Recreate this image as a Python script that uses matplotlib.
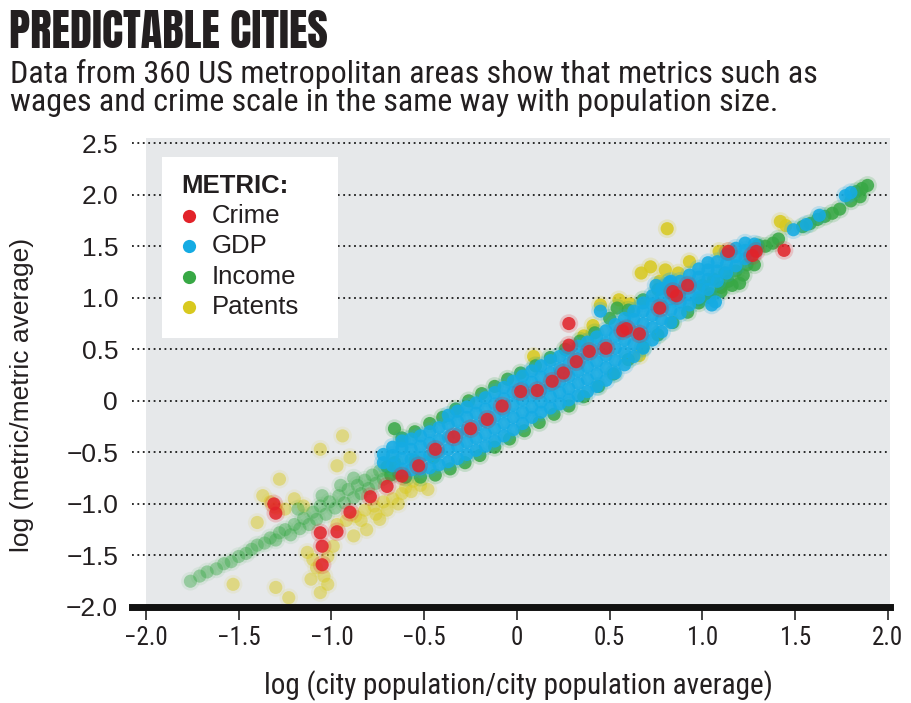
import numpy as np
import matplotlib
matplotlib.use('Agg')
import matplotlib.pyplot as plt
from matplotlib.colors import to_rgba
from matplotlib.patches import Rectangle
from matplotlib.lines import Line2D

# ---- data ----
xticks = [-2.0, -1.5, -1.0, -0.5, 0.0, 0.5, 1.0, 1.5, 2.0]
xtick_labels = ['\u22122.0', '\u22121.5', '\u22121.0', '\u22120.5', '0', '0.5', '1.0', '1.5', '2.0']
yticks = [-2.0, -1.5, -1.0, -0.5, 0.0, 0.5, 1.0, 1.5, 2.0, 2.5]
ytick_labels = ['\u22122.0', '\u22121.5', '\u22121.0', '\u22120.5', '0', '0.5', '1.0', '1.5', '2.0', '2.5']

metrics = ['Crime', 'GDP', 'Income', 'Patents']

crime_x = [-1.31, -1.30, -1.06, -1.05, -1.05, -0.97, -0.90, -0.79, -0.70, -0.62, -0.53, -0.44,
           -0.34, -0.25, -0.16, -0.08, 0.02, 0.11, 0.19, 0.25, 0.32, 0.28, 0.28, 0.39, 0.48,
           0.57, 0.59, 0.66, 0.77, 0.84, 0.86, 0.92, 1.14, 1.27, 1.29, 1.44]
crime_y = [-1.00, -1.09, -1.28, -1.41, -1.59, -1.27, -1.08, -0.93, -0.83, -0.73, -0.63, -0.47,
           -0.35, -0.27, -0.18, -0.05, 0.09, 0.10, 0.19, 0.27, 0.38, 0.75, 0.54, 0.48, 0.51,
           0.68, 0.70, 0.65, 0.90, 1.06, 1.02, 1.12, 1.45, 1.41, 1.45, 1.46]

# GDP: dense band, one column of points per x position
gdp_cols = [-0.72, -0.67, -0.62, -0.57, -0.52, -0.47, -0.42, -0.37, -0.32, -0.27, -0.22, -0.17,
            -0.12, -0.07, -0.02, 0.03, 0.08, 0.13, 0.18, 0.23, 0.28, 0.33, 0.38, 0.43, 0.48,
            0.53, 0.58, 0.63, 0.68, 0.73, 0.78, 0.83, 0.88, 0.93, 0.98, 1.03, 1.08, 1.13,
            1.18, 1.23, 1.28]
gdp_rows = [
    [-0.60, -0.52],
    [-0.63, -0.53, -0.45],
    [-0.66, -0.56, -0.46, -0.39],
    [-0.67, -0.57, -0.47, -0.37],
    [-0.66, -0.55, -0.44, -0.34],
    [-0.65, -0.53, -0.41, -0.30],
    [-0.62, -0.50, -0.38, -0.26],
    [-0.59, -0.47, -0.35, -0.23, -0.14],
    [-0.56, -0.44, -0.32, -0.20, -0.10],
    [-0.52, -0.40, -0.28, -0.16, -0.06],
    [-0.48, -0.36, -0.24, -0.12, -0.02],
    [-0.44, -0.32, -0.20, -0.08, 0.03],
    [-0.39, -0.27, -0.15, -0.03, 0.08],
    [-0.34, -0.22, -0.10, 0.02, 0.13],
    [-0.28, -0.16, -0.04, 0.08, 0.19],
    [-0.22, -0.11, 0.01, 0.13, 0.24],
    [-0.16, -0.06, 0.06, 0.18, 0.29],
    [-0.11, -0.01, 0.11, 0.23, 0.34],
    [-0.07, 0.04, 0.15, 0.27, 0.39],
    [-0.03, 0.08, 0.19, 0.31, 0.43],
    [0.01, 0.12, 0.24, 0.36, 0.48],
    [0.05, 0.17, 0.29, 0.41, 0.53],
    [0.09, 0.21, 0.33, 0.45, 0.57],
    [0.14, 0.26, 0.38, 0.50, 0.62],
    [0.20, 0.32, 0.44, 0.56, 0.68],
    [0.27, 0.39, 0.51, 0.63, 0.74],
    [0.35, 0.47, 0.59, 0.71, 0.80],
    [0.43, 0.55, 0.67, 0.79, 0.87],
    [0.51, 0.63, 0.75, 0.87, 0.95],
    [0.59, 0.71, 0.83, 0.94, 1.02],
    [0.67, 0.79, 0.91, 1.01, 1.09],
    [0.76, 0.88, 0.99, 1.09, 1.16],
    [0.85, 0.96, 1.06, 1.16],
    [0.93, 1.03, 1.13, 1.22],
    [1.00, 1.10, 1.20, 1.28],
    [1.08, 1.18, 1.27, 1.34],
    [1.16, 1.26, 1.35],
    [1.24, 1.33, 1.42],
    [1.31, 1.40, 1.48],
    [1.38, 1.46, 1.53],
    [1.45, 1.52],
]
gdp_extra_x = [0.45, 0.75, 0.82, 1.05, 1.07, 1.49, 1.56, 1.63, 1.77, 1.80]
gdp_extra_y = [0.87, 1.12, 1.15, 0.93, 0.96, 1.66, 1.71, 1.80, 1.99, 2.02]

income_x = [-1.76, -1.71, -1.67, -1.62, -1.58, -1.54, -1.50, -1.46, -1.43, -1.40, -1.36, -1.33,
            -1.30, -1.28, -1.25, -1.22, -1.20, -1.17, -1.15, -1.12, -1.10, -1.08, -1.06, -1.03,
            -1.01, -0.98, -0.96, -0.93, -0.91, -0.88, -0.86, -0.84, -0.82, -0.80, -0.78, -0.76,
            -0.74, -0.72, -0.70, -0.68, -0.66, -0.64, -1.18, -1.05, -0.95, -0.88, -0.66,
            -0.62, -0.55, -0.47, -0.40, -0.33, -0.26, -0.19, -0.12, -0.05, 0.02, 0.10, 0.18,
            0.26, 0.34, 0.42, 0.50, 0.54, 0.60, 0.68, 0.76,
            -0.60, -0.52, -0.44, -0.36, -0.28, -0.20, -0.12, -0.04, 0.04, 0.12, 0.20, 0.28,
            0.36, 0.44, 0.52, 0.60, 0.68, 0.76, 0.84, 0.92, 0.98, 1.04, 1.10, 1.16, 1.22, 1.28,
            -0.55, -0.45,
            0.98, 1.04, 1.10, 1.14, 1.12, 1.06, 1.00, 1.18, 1.24, 1.20,
            1.30, 1.34, 1.38, 1.41, 1.54, 1.58, 1.62, 1.66, 1.70, 1.74, 1.80, 1.83, 1.86,
            1.89, 1.85]
income_y = [-1.75, -1.70, -1.66, -1.63, -1.58, -1.56, -1.51, -1.48, -1.44, -1.40, -1.38, -1.33,
            -1.35, -1.28, -1.25, -1.30, -1.20, -1.24, -1.14, -1.20, -1.08, -1.15, -1.02, -1.10,
            -0.98, -1.04, -0.92, -0.99, -0.86, -0.94, -0.82, -0.90, -0.77, -0.85, -0.72, -0.80,
            -0.68, -0.76, -0.64, -0.72, -0.60, -0.70, -1.05, -0.92, -0.82, -0.75, -0.27,
            -0.36, -0.30, -0.22, -0.16, -0.08, 0.00, 0.07, 0.14, 0.21, 0.27, 0.34, 0.42,
            0.50, 0.58, 0.66, 0.80, 0.90, 0.88, 0.98, 1.08,
            -0.74, -0.74, -0.72, -0.66, -0.60, -0.53, -0.45, -0.37, -0.29, -0.21, -0.13, -0.05,
            0.04, 0.14, 0.26, 0.40, 0.52, 0.64, 0.76, 0.86, 0.95, 1.00, 1.06, 1.12, 1.22, 1.32,
            -0.58, -0.55,
            0.98, 1.04, 1.10, 1.16, 1.24, 1.18, 1.12, 1.26, 1.32, 1.14,
            1.51, 1.50, 1.53, 1.57, 1.69, 1.72, 1.76, 1.79, 1.82, 1.86, 1.94, 2.03, 2.06,
            2.09, 1.98]

patents_x = [0.81, 0.67, 0.72, 0.80, 0.87, 0.93, 0.77, 1.09, 1.14, 0.61, 0.55, 0.45, 0.41, 0.38,
             0.36, 0.09, 0.66, 1.42, 1.45,
             -0.48, -0.52, -0.57, -0.62, -0.67, -0.72, -0.77, -0.82, -0.87, -0.92, -0.97, -0.64,
             -0.70, -0.76, -0.84, -0.74, -0.81, -0.88, -0.99, -1.02, -1.10, -1.13, -1.08, -1.11,
             -1.02, -1.06, -1.04, -1.23, -1.30, -1.53, -0.94, -1.06, -0.97, -0.90, -1.28, -1.37,
             -1.40, -1.30, -1.33, -1.20, -1.15, -1.25, -0.56, -0.60]
patents_y = [1.67, 1.24, 1.30, 1.27, 1.24, 1.35, 1.16, 1.45, 1.45, 0.94, 0.98, 0.93, 0.73, 0.60,
             0.63, 0.43, 0.44, 1.74, 1.70,
             -0.86, -0.82, -0.88, -0.90, -0.95, -0.98, -1.02, -1.06, -1.12, -1.16, -1.20, -1.00,
             -1.06, -1.10, -1.16, -1.15, -1.25, -1.31, -1.41, -1.51, -1.54, -1.47, -1.62, -1.73,
             -1.78, -1.86, -1.70, -1.91, -1.81, -1.78, -0.34, -0.47, -0.63, -0.55, -0.76, -0.92,
             -1.18, -1.04, -0.98, -0.95, -1.02, -1.05, -0.78, -0.84]

# ---- styling ----
colors = {'Crime': '#e2232a', 'GDP': '#15abe3', 'Income': '#38a845', 'Patents': '#d8c91f'}
bg = '#e6e8ea'
ink = '#231f20'
cond = ['Roboto Condensed', 'DejaVu Sans']
regular = ['Liberation Sans', 'DejaVu Sans']
heavy = ['Anton', 'Oswald', 'DejaVu Sans']
msize = 90

W, H = 911, 703
fig = plt.figure(figsize=(W / 100, H / 100), dpi=100)
fig.patch.set_facecolor('white')


def fx(px):
    return px / W


def fy(py):
    return 1 - py / H


def dots(xs, ys, color, alphas, z):
    xs = np.asarray(xs)
    alphas = np.broadcast_to(alphas, xs.shape)
    soft = [to_rgba(color, a * 0.22) for a in alphas]
    core = [to_rgba(color, a) for a in alphas]
    ax.scatter(xs, ys, s=msize * 2.0, c=soft, linewidths=0, zorder=z)
    ax.scatter(xs, ys, s=msize, c=core, linewidths=0, zorder=z + 0.5)


ax = fig.add_axes([fx(132), fy(607), fx(890) - fx(132), fy(138) - fy(607)])
ax.set_xlim(-2.075, 2.011)
ax.set_ylim(-2.0, 2.55)
for s in ax.spines.values():
    s.set_visible(False)
ax.set_facecolor('white')
ax.axvspan(-2.0, 2.011, color=bg, zorder=0, lw=0)

for v in yticks[1:]:
    ax.axhline(v, color='#1a1a1a', lw=1.3, ls=(0, (1, 2)), zorder=1)
ax.axhline(-2.0, color='#111111', lw=5, zorder=8, clip_on=False)

# points
pat_x = np.array(patents_x)
dots(pat_x, patents_y, colors['Patents'], np.where(pat_x < -0.4, 0.45, 0.85), 2)

inc_x = np.array(income_x)
dots(inc_x, income_y, colors['Income'], np.where(inc_x < -0.7, 0.4, 0.85), 3)

g_x = [x for x, ys in zip(gdp_cols, gdp_rows) for _ in ys] + gdp_extra_x
g_y = [y for ys in gdp_rows for y in ys] + gdp_extra_y
dots(g_x, g_y, colors['GDP'], 0.88, 4)

dots(crime_x, crime_y, colors['Crime'], 0.85, 5)

# ticks
ax.set_xticks(xticks)
ax.set_xticklabels(xtick_labels, family=cond, fontsize=18, color=ink)
ax.set_yticks(yticks)
ax.set_yticklabels(ytick_labels, family=regular, fontsize=19, color=ink)
ax.tick_params(axis='x', length=9.5, width=1.1, direction='out', pad=4, color='#111111')
ax.tick_params(axis='y', length=0, pad=10)

# axis titles
fig.text(fx(518), fy(686), 'log (city population/city population average)', ha='center',
         va='center', family=cond, fontsize=21, color=ink)
fig.text(fx(22), fy(395), 'log (metric/metric average)', ha='center', va='center',
         rotation=90, family=regular, fontsize=19, color=ink)

# title block
fig.text(fx(9), fy(48), 'PREDICTABLE CITIES', ha='left', va='baseline', family=heavy,
         fontsize=32, color=ink)
fig.text(fx(10), fy(83), 'Data from 360 US metropolitan areas show that metrics such as',
         ha='left', va='baseline', family=cond, fontsize=23, color=ink)
fig.text(fx(10), fy(111), 'wages and crime scale in the same way with population size.',
         ha='left', va='baseline', family=cond, fontsize=23, color=ink)

# legend box
fig.add_artist(Rectangle((fx(162), fy(338)), fx(338) - fx(162), fy(157) - fy(338),
                         transform=fig.transFigure, facecolor='white', edgecolor='none',
                         zorder=10))
fig.text(fx(181), fy(186), 'METRIC:', ha='left', va='center', family=regular,
         fontweight='bold', fontsize=18.5, color=ink, zorder=11)
for name, yy in zip(metrics, [216, 246, 277, 307]):
    fig.add_artist(Line2D([fx(189)], [fy(yy)], marker='o', ms=9.5, mew=0,
                          color=colors[name], transform=fig.transFigure, zorder=11))
    fig.text(fx(212), fy(yy), name, ha='left', va='center', family=regular, fontsize=18.5,
             color=ink, zorder=11)

fig.savefig('out.png', dpi=100)
